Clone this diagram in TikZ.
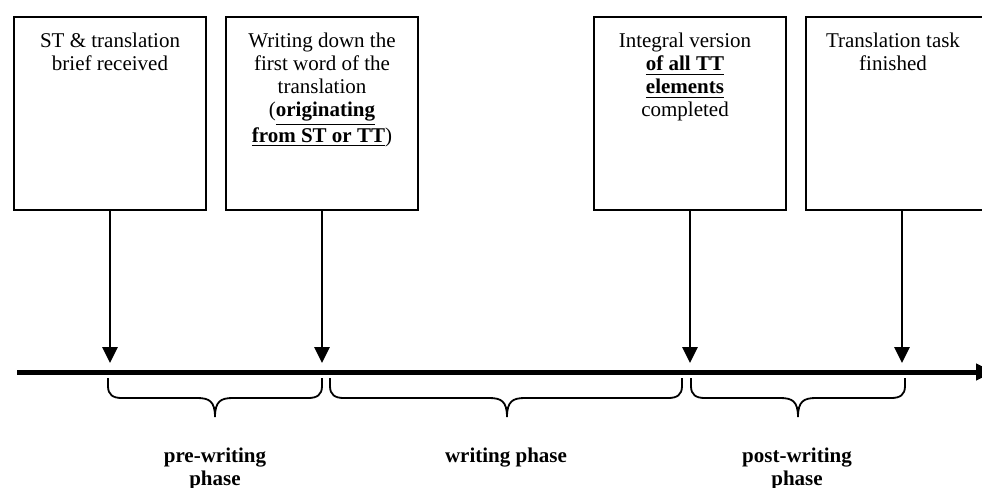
\documentclass[tikz,border=0pt]{standalone}
\usepackage{fontspec}
\setmainfont{Liberation Serif}
\usetikzlibrary{arrows.meta,positioning}

\begin{document}
\begin{tikzpicture}[x=0.5pt,y=-0.5pt,
  evbox/.style={draw,line width=1pt,minimum width=96pt,minimum height=96.5pt,inner sep=0pt},
  evtext/.style={align=center,inner sep=0pt,font=\fontsize{10.5}{11.5}\selectfont},
  evarrow/.style={line width=1.4pt,-{Triangle[length=8pt,width=7.5pt]}},
  phase/.style={align=center,inner sep=0pt,anchor=north,font=\fontsize{10.5}{11.5}\selectfont\bfseries}]
\useasboundingbox (0,0) rectangle (982,488);
\clip (0,0) rectangle (982,488);

% the four moments
\node[evbox] (b1) at (110,113.5) {};
\node[evbox] (b2) at (322,113.5) {};
\node[evbox] (b3) at (690,113.5) {};
\node[evbox] (b4) at (902,113.5) {};

\node[evtext,below=8.5pt of b1.north] (t1) {ST \& translation\\brief received};
\node[evtext,below=8.5pt of b2.north] (t2) {Writing down the\\first word of the\\translation\\
  (\underline{\textbf{originating}}\\\underline{\textbf{from ST or TT}})};
\node[evtext,below=8.5pt of b3.north,xshift=-2.5pt] (t3) {Integral version\\
  \underline{\textbf{of all TT}}\\\underline{\textbf{elements}}\\completed};
\node[evtext,below=8.5pt of b4.north,xshift=-4.5pt] (t4) {Translation task\\finished};

% time axis
\coordinate (tl0) at (17,372);
\coordinate (tl1) at (994,372);
\draw[line width=2.5pt,-{Triangle[length=9pt,width=8pt]}] (tl0) -- (tl1);

\foreach \i/\x in {1/110,2/322,3/690,4/902}
  \coordinate (e\i) at (\x,363);
\foreach \i in {1,...,4}
  \draw[evarrow] (b\i) -- (e\i);

% braces under the axis
\foreach \xa/\xm/\xb in {108/215/322,330/507/682,691/798/905}
  \draw[line width=0.9pt] (\xa,378) -- (\xa,386) .. controls (\xa,395) and (\xa+5,398) .. (\xa+14,398)
    -- (\xm-18,398) .. controls (\xm-6,398) and (\xm,401) .. (\xm,417)
    .. controls (\xm,401) and (\xm+6,398) .. (\xm+18,398)
    -- (\xb-14,398) .. controls (\xb-5,398) and (\xb,395) .. (\xb,386) -- (\xb,378);

\node[phase] (p1) at (215,448) {pre-writing\\phase};
\node[phase] (p2) at (506,448) {writing phase};
\node[phase] (p3) at (797,448) {post-writing\\phase};
\end{tikzpicture}
\end{document}
